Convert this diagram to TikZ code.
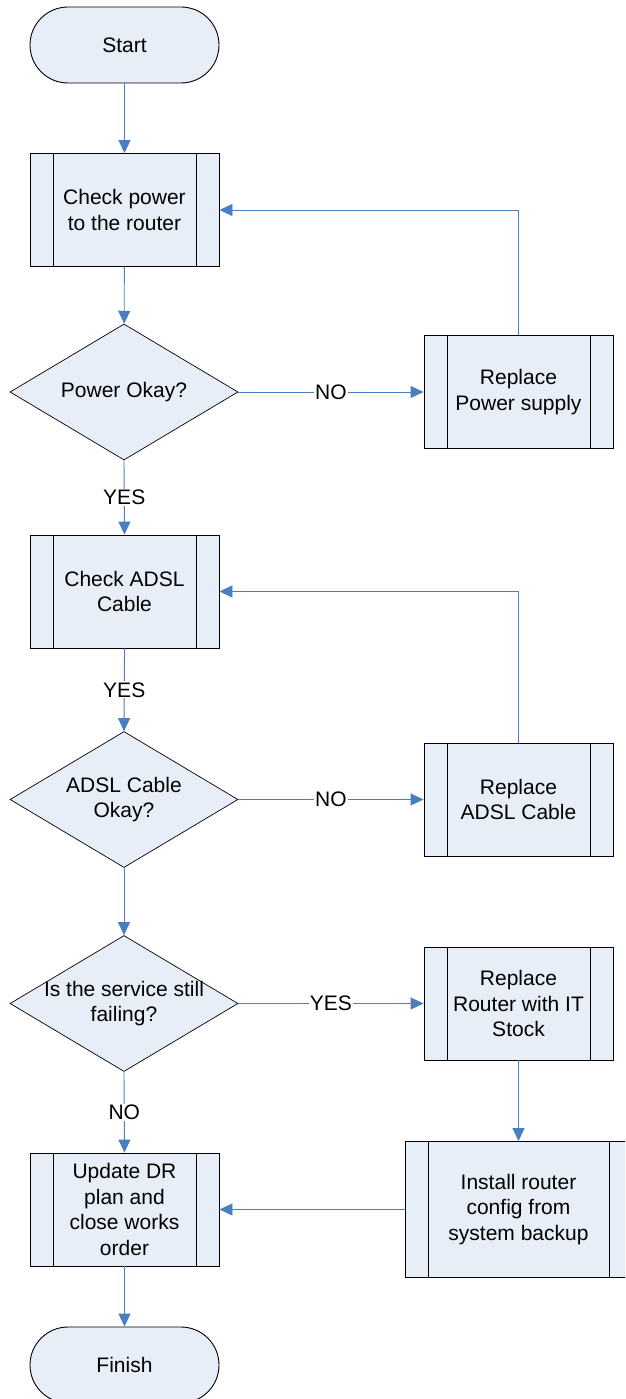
\documentclass[tikz,border=0pt]{standalone}
\usepackage{fontspec}
\setmainfont{Liberation Sans}
\usetikzlibrary{arrows.meta,shapes.geometric}
\definecolor{boxfill}{RGB}{232,238,247}
\definecolor{conn}{RGB}{74,126,193}
\tikzset{
  x=1pt, y=-1pt,
  every node/.style={font=\fontsize{21}{25.5}\selectfont, align=center},
  terminal/.style={draw=black, line width=0.9pt, fill=boxfill, rectangle, rounded corners=38pt, minimum width=189pt, minimum height=76pt, inner sep=0pt},
  proc/.style={draw=black, line width=0.9pt, fill=boxfill, rectangle, minimum width=#1, minimum height=113pt, inner sep=0pt,
    path picture={
      \draw[line width=0.9pt] ([xshift=23pt]path picture bounding box.north west) -- ([xshift=23pt]path picture bounding box.south west);
      \draw[line width=0.9pt] ([xshift=-23pt]path picture bounding box.north east) -- ([xshift=-23pt]path picture bounding box.south east);
    }},
  proc/.default=189pt,
  decision/.style={draw=black, line width=0.7pt, fill=boxfill, diamond, minimum width=228pt, minimum height=136pt, inner sep=0pt},
  conn/.style={draw=conn, line width=0.9pt, -{Triangle[length=13pt,width=12pt]}},
  lbl/.style={fill=white, inner sep=1pt}
}
\begin{document}
\begin{tikzpicture}
\useasboundingbox (0,0) rectangle (625,1399);
\clip (0,0) rectangle (625,1399);
% nodes
\node[terminal] (start) at (124.5,45) {Start};
\node[proc] (cp) at (124.5,210) {Check power\\to the router};
\node[decision] (d1) at (124,392) {};
\node at (d1) {Power Okay?};
\node[proc] (rp) at (518.5,392) {Replace\\Power supply};
\node[proc] (ca) at (124.5,591.5) {Check ADSL\\Cable};
\node[decision] (d2) at (124,799.5) {};
\node at (d2) {ADSL Cable\\Okay?};
\node[proc] (ra) at (518.5,799.5) {Replace\\ADSL Cable};
\node[decision] (d3) at (124,1003.5) {};
\node at (d3) {Is the service still\\failing?};
\node[proc] (rr) at (518.5,1003.5) {Replace\\Router with IT\\Stock};
\node[proc=227pt, minimum height=136pt] (inst) at (518.5,1209.5) {Install router\\config from\\system backup};
\node[proc, minimum height=113pt] (upd) at (124.5,1209.5) {Update DR\\plan and\\close works\\order};
\node[terminal] (fin) at (124.5,1365) {Finish};
% connectors
\draw[conn] (start) -- (cp);
\draw[conn] (cp) -- (d1);
\draw[conn] (d1.east) -- node[lbl] {NO} (rp.west);
\draw[conn] (rp.north) |- (cp.east);
\draw[conn] (d1.south) -- node[lbl] {YES} (ca.north);
\draw[conn] (ca.south) -- node[lbl] {YES} (d2.north);
\draw[conn] (d2.east) -- node[lbl] {NO} (ra.west);
\draw[conn] (ra.north) |- (ca.east);
\draw[conn] (d2.south) -- (d3.north);
\draw[conn] (d3.east) -- node[lbl] {YES} (rr.west);
\draw[conn] (rr.south) -- (inst.north);
\draw[conn] (inst.west) -- (upd.east);
\draw[conn] (d3.south) -- node[lbl] {NO} (upd.north);
\draw[conn] (upd.south) -- (fin.north);
\end{tikzpicture}
\end{document}
